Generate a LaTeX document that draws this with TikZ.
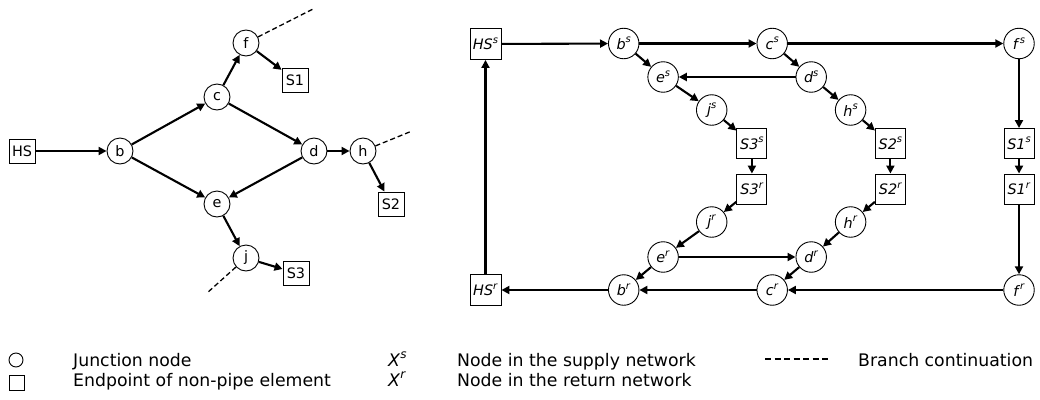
\documentclass[tikz,border=0pt]{standalone}
\usepackage{fontspec}
\setmainfont{DejaVu Sans}
\usetikzlibrary{arrows.meta,shapes.geometric}
\newcommand\nsup[2]{\textit{#1}\raisebox{0.45em}{\fontsize{10}{10}\selectfont\textit{#2}}}
\newcommand\lsup[2]{\textit{#1}\raisebox{0.45em}{\fontsize{12}{12}\selectfont\textit{#2}}}
\begin{document}
\begin{tikzpicture}[x=1pt,y=-1pt,
  nfont/.style={font=\fontsize{14.4}{16}\selectfont},
  lc/.style={circle,draw,line width=0.9pt,minimum size=26pt,inner sep=0pt,nfont},
  lb/.style={rectangle,draw,line width=0.9pt,minimum width=26pt,minimum height=24pt,inner sep=0pt,nfont},
  re/.style={circle,draw,line width=0.9pt,minimum size=30.5pt,inner sep=0pt,nfont},
  rb/.style={rectangle,draw,line width=0.9pt,minimum width=30pt,minimum height=30pt,inner sep=0pt,nfont},
  pipe/.style={line width=2.1pt,-{Triangle[length=8pt,width=8pt]}},
  cont/.style={line width=1.3pt,dash pattern=on 5pt off 3pt},
  legtxt/.style={anchor=base west,inner sep=0pt,font=\fontsize{17.3}{20}\selectfont},
]
\useasboundingbox (0,0) rectangle (1040,399);

% ---------- left graph ----------
\node[lb] (HS) at (22,151) {HS};
\node[lc] (b) at (120,151) {b};
\node[lc] (c) at (217,97) {c};
\node[lc] (f) at (246,43) {f};
\node[lb] (S1) at (295,80) {S1};
\node[lc] (d) at (314,151) {d};
\node[lc] (h) at (363,151) {h};
\node[lb] (S2) at (391,204) {S2};
\node[lc] (e) at (217,204) {e};
\node[lc] (j) at (246,258) {j};
\node[lb] (S3) at (296,273) {S3};
\coordinate (fx) at (315,8);
\coordinate (hx) at (412,131);
\coordinate (jx) at (207,293);

\draw[pipe] (HS) -- (b);
\draw[pipe] (b) -- (c);
\draw[pipe] (b) -- (e);
\draw[pipe] (c) -- (f);
\draw[pipe] (c) -- (d);
\draw[pipe] (d) -- (e);
\draw[pipe] (d) -- (h);
\draw[pipe] (f) -- (S1);
\draw[pipe] (h) -- (S2);
\draw[pipe] (e) -- (j);
\draw[pipe] (j) -- (S3);
\draw[cont] (f) -- (fx);
\draw[cont] (h) -- (hx);
\draw[cont] (j) -- (jx);

% ---------- right graph ----------
\node[rb,minimum width=31pt,minimum height=31pt] (HSs) at (485.5,44) {\nsup{HS}{s}};
\node[re] (bs) at (623.7,43.5) {\nsup{b}{s}};
\node[re] (cs) at (772.2,43.5) {\nsup{c}{s}};
\node[re] (fs) at (1019,43.5) {\nsup{f}{s}};
\node[re] (es) at (663.1,77) {\nsup{e}{s}};
\node[re] (ds) at (811.2,77) {\nsup{d}{s}};
\node[re] (js) at (711.7,110) {\nsup{j}{s}};
\node[re] (hs) at (850.6,110) {\nsup{h}{s}};
\node[rb] (S3s) at (751.9,143.5) {\nsup{S3}{s}};
\node[rb] (S2s) at (890.4,143.5) {\nsup{S2}{s}};
\node[rb] (S1s) at (1019,143.5) {\nsup{S1}{s}};
\node[rb] (S3r) at (751.9,189) {\nsup{S3}{r}};
\node[rb] (S2r) at (890.4,189) {\nsup{S2}{r}};
\node[rb] (S1r) at (1019,189) {\nsup{S1}{r}};
\node[re] (jr) at (711.7,222) {\nsup{j}{r}};
\node[re] (hr) at (850.6,222) {\nsup{h}{r}};
\node[re] (er) at (663.1,257) {\nsup{e}{r}};
\node[re] (dr) at (811.2,257) {\nsup{d}{r}};
\node[rb,minimum width=31pt,minimum height=31pt] (HSr) at (485.5,290) {\nsup{HS}{r}};
\node[re] (br) at (623.7,290) {\nsup{b}{r}};
\node[re] (cr) at (772.2,290) {\nsup{c}{r}};
\node[re] (fr) at (1019,290) {\nsup{f}{r}};

\draw[pipe] (HSs) -- (bs);
\draw[pipe] (bs) -- (cs);
\draw[pipe] (cs) -- (fs);
\draw[pipe] (bs) -- (es);
\draw[pipe] (cs) -- (ds);
\draw[pipe] (ds) -- (es);
\draw[pipe] (es) -- (js);
\draw[pipe] (ds) -- (hs);
\draw[pipe] (js) -- (S3s);
\draw[pipe] (hs) -- (S2s);
\draw[pipe] (fs) -- (S1s);
\draw[pipe] (S3s) -- (S3r);
\draw[pipe] (S2s) -- (S2r);
\draw[pipe] (S1s) -- (S1r);
\draw[pipe] (S3r) -- (jr);
\draw[pipe] (S2r) -- (hr);
\draw[pipe] (S1r) -- (fr);
\draw[pipe] (jr) -- (er);
\draw[pipe] (hr) -- (dr);
\draw[pipe] (er) -- (dr);
\draw[pipe] (er) -- (br);
\draw[pipe] (dr) -- (cr);
\draw[pipe] (fr) -- (cr);
\draw[pipe] (cr) -- (br);
\draw[pipe] (br) -- (HSr);
\draw[pipe] (HSr) -- (HSs);

% ---------- legend ----------
\node[circle,draw,line width=0.9pt,minimum size=14pt,inner sep=0pt] (legc) at (16,360) {};
\node[rectangle,draw,line width=0.9pt,minimum size=15pt,inner sep=0pt] (legb) at (17,382.5) {};
\node[legtxt] (legct) at (73,366) {Junction node};
\node[legtxt] (legbt) at (73,386) {Endpoint of non-pipe element};
\node[legtxt] (legs) at (388,366) {\lsup{X}{s}};
\node[legtxt] (legr) at (388,386) {\lsup{X}{r}};
\node[legtxt] (legst) at (457,366) {Node in the supply network};
\node[legtxt] (legrt) at (457,386) {Node in the return network};
\coordinate (lda) at (765,359);
\coordinate (ldb) at (830,359);
\draw[line width=1.3pt,dash pattern=on 6pt off 3.5pt] (lda) -- (ldb);
\node[legtxt] (legdt) at (858,366) {Branch continuation};
\end{tikzpicture}
\end{document}
